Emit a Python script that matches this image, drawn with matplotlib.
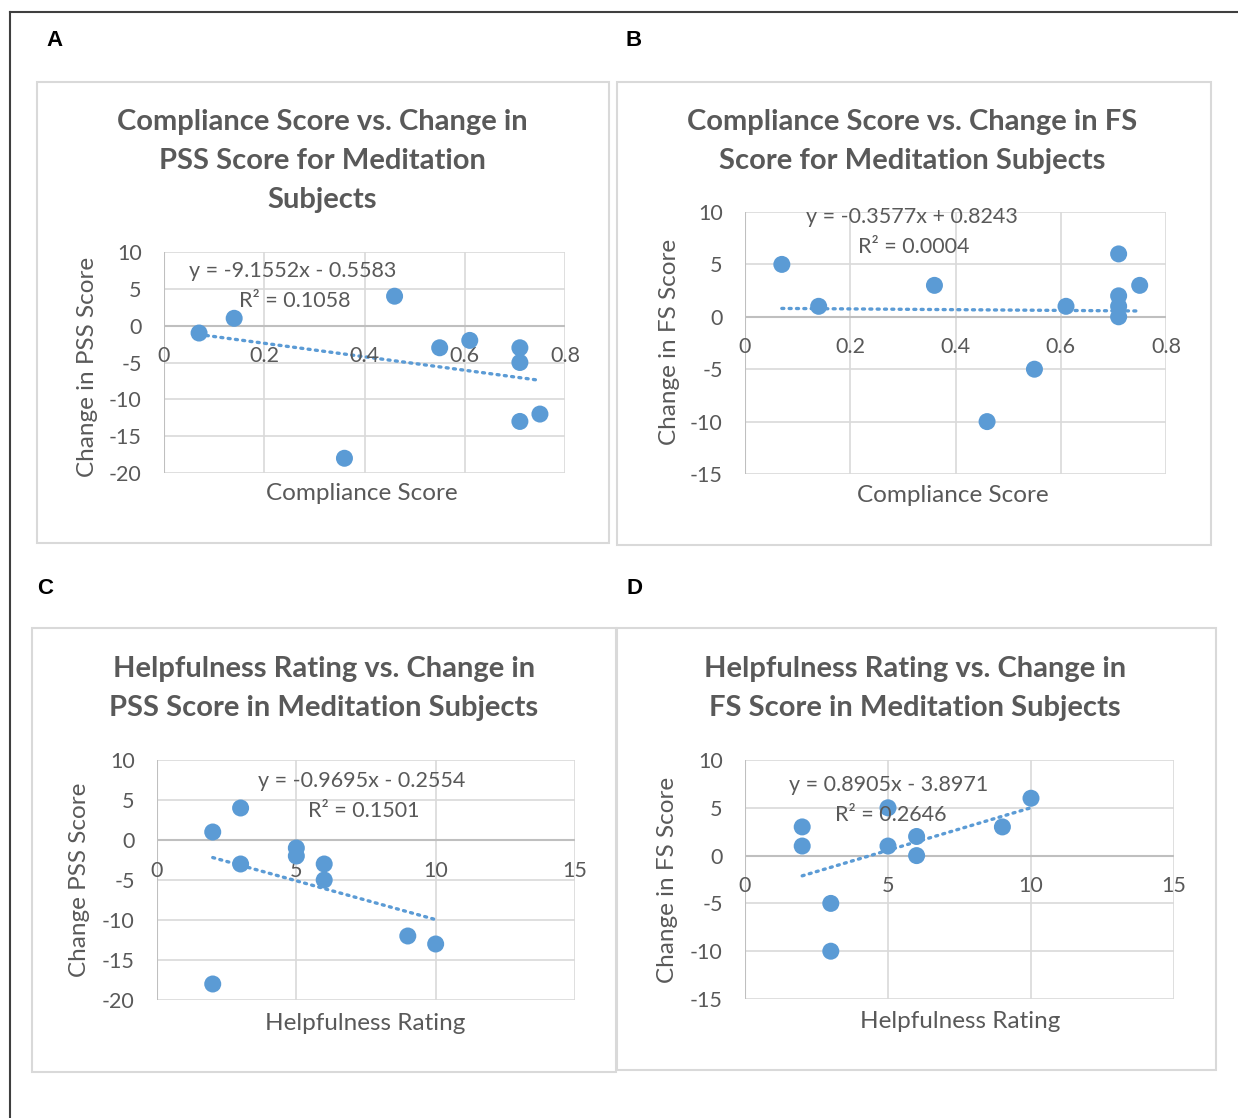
import matplotlib.pyplot as plt
from matplotlib.patches import Rectangle
from matplotlib.lines import Line2D

W, H = 1238, 1118
BLUE = '#5b9bd5'
GREY = '#595959'
GRID = '#d9d9d9'

# data
comp_pss_x = [0.07, 0.14, 0.36, 0.46, 0.55, 0.61, 0.71, 0.71, 0.71, 0.75]
comp_pss_y = [-1, 1, -18, 4, -3, -2, -3, -5, -13, -12]

comp_fs_x = [0.07, 0.14, 0.36, 0.46, 0.55, 0.61, 0.71, 0.71, 0.71, 0.71, 0.75]
comp_fs_y = [5, 1, 3, -10, -5, 1, 6, 2, 1, 0, 3]

help_pss_x = [2, 2, 3, 3, 5, 5, 6, 6, 9, 10]
help_pss_y = [1, -18, 4, -3, -1, -2, -3, -5, -12, -13]

help_fs_x = [2, 2, 3, 3, 5, 5, 6, 6, 9, 10]
help_fs_y = [3, 1, -5, -10, 5, 1, 2, 0, 3, 6]

# trendline (slope, intercept, r2)
fit_a = (-9.1552, -0.5583, 0.1058)
fit_b = (-0.3577, 0.8243, 0.0004)
fit_c = (-0.9695, -0.2554, 0.1501)
fit_d = (0.8905, -3.8971, 0.2646)

comp_ticks = [0, 0.2, 0.4, 0.6, 0.8]
comp_labels = ['0', '0.2', '0.4', '0.6', '0.8']
help_ticks = [0, 5, 10, 15]
help_labels = ['0', '5', '10', '15']

plt.rcParams['font.family'] = ['Lato', 'DejaVu Sans']
plt.rcParams['axes.unicode_minus'] = False

fig = plt.figure(figsize=(W / 100, H / 100), dpi=100)
fig.patch.set_facecolor('white')


def fx(x):
    return x / W


def fy(y):
    return 1 - y / H


def ptext(x, y, s, **kw):
    fig.text(fx(x), fy(y), s, **kw)


# outer frame
fig.add_artist(Line2D([fx(10), fx(10)], [fy(12), fy(H)], color='#3f3f3f', lw=1.5))
fig.add_artist(Line2D([fx(10), fx(W)], [fy(12), fy(12)], color='#3f3f3f', lw=1.5))

# chart boxes
for (x0, y0, x1, y1) in [(37, 82, 609, 543), (617, 82, 1211, 545),
                         (32, 628, 616, 1072), (617, 628, 1216, 1070)]:
    fig.add_artist(Rectangle((fx(x0), fy(y1)), fx(x1 - x0), (y1 - y0) / H,
                             fill=False, edgecolor=GRID, lw=1.5))

for lab, x, y in [('A', 54, 40), ('B', 634, 40), ('C', 45, 588), ('D', 634, 588)]:
    ptext(x, y, lab, family='Liberation Sans', weight='bold', fontsize=16,
          ha='center', va='center', color='black')


def panel(box, xs, ys, fit, xlim, ylim, yticks, xticks, xlabels,
          title, tpos, xlab, xlpos, ylab, ylpos, eqpos):
    l, t, r, b = box
    ax = fig.add_axes([fx(l), fy(b), fx(r - l), (b - t) / H])
    ax.set_xlim(*xlim)
    ax.set_ylim(*ylim)
    for s in ax.spines.values():
        s.set_visible(False)
    ax.set_xticks(xticks)
    ax.set_yticks(yticks)
    ax.grid(True, color=GRID, lw=1.2)
    ax.set_axisbelow(True)
    ax.tick_params(length=0, labelbottom=False, labelsize=15.5, labelcolor=GREY, pad=16)
    ax.axhline(0, color='#bfbfbf', lw=1.5, zorder=1)
    ax.axvline(0, color='#bfbfbf', lw=1.5, zorder=1)
    for v, s in zip(xticks, xlabels):
        ax.annotate(s, (v, 0), xytext=(0, -22), textcoords='offset points',
                    ha='center', va='center', fontsize=15.5, color=GREY)
    ax.scatter(xs, ys, s=150, color=BLUE, zorder=3, edgecolors='none')
    m, c, r2 = fit
    x0, x1 = min(xs), max(xs)
    ax.plot([x0, x1], [m * x0 + c, m * x1 + c], color=BLUE, lw=2.4,
            ls=(0, (0.6, 1.6)), dash_capstyle='round', zorder=2)
    sign = '-' if c < 0 else '+'
    ptext(eqpos[0], eqpos[1], f'y = {m}x {sign} {abs(c)}', ha='center',
          va='center', fontsize=15.5, color=GREY)
    ptext(eqpos[0] + 2, eqpos[1] + 30, f'R² = {r2:.4f}', ha='center',
          va='center', fontsize=15.5, color=GREY)
    for i, line in enumerate(title):
        ptext(tpos[0], tpos[1] + 39 * i, line, ha='center', va='center',
              fontsize=21, weight='bold', color=GREY)
    ptext(xlpos[0], xlpos[1], xlab, ha='center', va='center', fontsize=17.5, color=GREY)
    ptext(ylpos[0], ylpos[1], ylab, ha='center', va='center', fontsize=17.5,
          color=GREY, rotation=90)
    return ax


panel((164, 252, 565, 473), comp_pss_x, comp_pss_y, fit_a, (0, 0.8), (-20, 10),
      range(-20, 11, 5), comp_ticks, comp_labels,
      ['Compliance Score vs. Change in', 'PSS Score for Meditation', 'Subjects'],
      (322, 122), 'Compliance Score', (362, 494), 'Change in PSS Score', (88, 367),
      (293, 271))

panel((745, 212, 1166, 474), comp_fs_x, comp_fs_y, fit_b, (0, 0.8), (-15, 10),
      range(-15, 11, 5), comp_ticks, comp_labels,
      ['Compliance Score vs. Change in FS', 'Score for Meditation Subjects'],
      (912, 122), 'Compliance Score', (953, 496), 'Change in FS Score', (670, 342),
      (912, 217))

panel((157, 760, 575, 1000), help_pss_x, help_pss_y, fit_c, (0, 15), (-20, 10),
      range(-20, 11, 5), help_ticks, help_labels,
      ['Helpfulness Rating vs. Change in', 'PSS Score in Meditation Subjects'],
      (324, 669), 'Helpfulness Rating', (365, 1023), 'Change PSS Score', (80, 880),
      (362, 781))

panel((745, 760, 1174, 999), help_fs_x, help_fs_y, fit_d, (0, 15), (-15, 10),
      range(-15, 11, 5), help_ticks, help_labels,
      ['Helpfulness Rating vs. Change in', 'FS Score in Meditation Subjects'],
      (915, 669), 'Helpfulness Rating', (960, 1021), 'Change in FS Score', (668, 880),
      (889, 785))

fig.savefig('out.png', dpi=100)
